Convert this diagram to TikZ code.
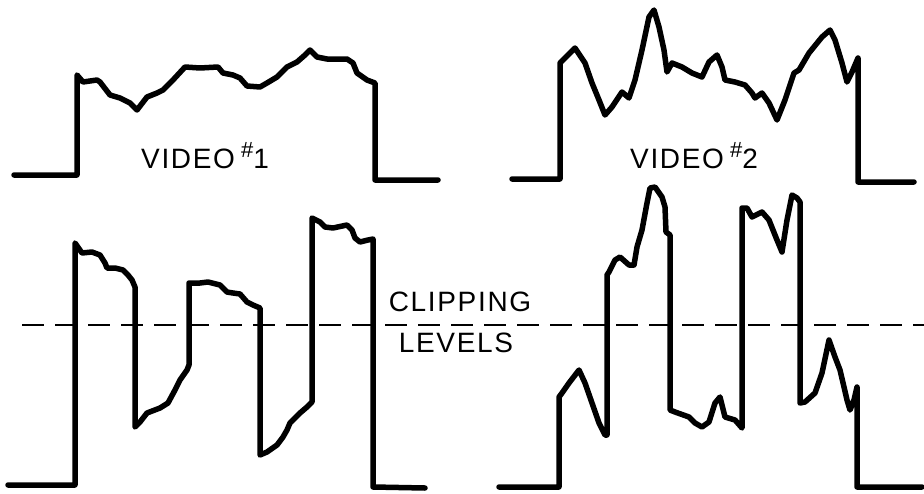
\documentclass[tikz,border=0pt]{standalone}
\usepackage{fontspec}
\setmainfont{Liberation Sans}
\newfontfamily\lettering[LetterSpace=6]{Liberation Sans}
\usepackage{tikz}

\begin{document}
\begin{tikzpicture}[x=1pt, y=-1pt,
    wave/.style={draw=black, line width=5.5pt, line join=round, line cap=round},
    cliplevel/.style={draw=black, line width=2pt, dash pattern=on 22pt off 11pt},
    caption/.style={font=\lettering\fontsize{28}{30}\selectfont, inner sep=0pt, anchor=center}]

    \useasboundingbox (0,0) rectangle (924,493);

    % video 1
    \draw [wave] (14,175) -- (77,175) -- (77,75) -- (83,82) -- (97,80) -- (100,82) -- (110,95)
        -- (120,98) -- (130,103) -- (137,110) -- (147,97) -- (157,93) -- (163,90) -- (173,80)
        -- (185,67) -- (200,68) -- (218,67) -- (223,73) -- (233,75) -- (240,78) -- (247,86)
        -- (260,87) -- (267,83) -- (277,77) -- (287,67) -- (297,62) -- (305,55) -- (310,50)
        -- (317,57) -- (327,59) -- (347,59) -- (353,63) -- (357,73) -- (367,80) -- (375,83)
        -- (375,180) -- (438,180);

    % video 2
    \draw [wave] (512,179) -- (560,179) -- (560,63) -- (575,48) -- (585,63) -- (592,83)
        -- (599,100) -- (605,115) -- (612,107) -- (622,92) -- (629,98) -- (635,80) -- (642,50)
        -- (649,17) -- (654,10) -- (659,27) -- (664,50) -- (667,72) -- (672,63) -- (682,67)
        -- (692,73) -- (702,77) -- (709,62) -- (717,55) -- (722,67) -- (725,80) -- (735,82)
        -- (745,85) -- (752,93) -- (755,98) -- (762,93) -- (769,103) -- (777,120) -- (785,100)
        -- (794,73) -- (799,70) -- (809,53) -- (822,37) -- (830,30) -- (835,40) -- (842,63)
        -- (847,82) -- (852,72) -- (855,65) -- (858,58) -- (858,182) -- (914,182);

    % clipped video 1
    \draw [wave] (8,485) -- (75,485) -- (75,243) -- (82,253) -- (92,252) -- (100,255)
        -- (105,263) -- (107,268) -- (115,268) -- (123,270) -- (128,275) -- (132,280) -- (135,287)
        -- (135,427) -- (140,422) -- (147,413) -- (160,408) -- (168,403) -- (175,390) -- (180,380)
        -- (187,370) -- (189,365) -- (189,283) -- (200,283) -- (208,282) -- (220,285) -- (227,292)
        -- (233,293) -- (240,294) -- (247,302) -- (253,305) -- (260,308) -- (260,455) -- (267,452)
        -- (277,445) -- (283,437) -- (287,430) -- (290,423) -- (300,413) -- (307,407) -- (312,402)
        -- (312,218) -- (320,222) -- (325,227) -- (333,228) -- (347,225) -- (352,230) -- (355,238)
        -- (360,242) -- (368,240) -- (373,239) -- (373,487) -- (425,488);

    % clipped video 2
    \draw [wave] (499,487) -- (559,487) -- (559,397) -- (562,393) -- (569,383) -- (579,370)
        -- (585,383) -- (592,403) -- (599,423) -- (605,435) -- (607,435) -- (607,275) -- (609,272)
        -- (615,260) -- (620,257) -- (629,265) -- (634,265) -- (637,247) -- (642,230) -- (647,203)
        -- (650,188) -- (655,187) -- (662,197) -- (665,207) -- (666,232) -- (670,235) -- (670,410)
        -- (675,412) -- (689,417) -- (695,423) -- (702,427) -- (709,422) -- (715,403) -- (720,397)
        -- (725,417) -- (735,420) -- (742,428) -- (742,208) -- (747,208) -- (752,217) -- (762,212)
        -- (769,220) -- (777,240) -- (782,252) -- (787,220) -- (792,195) -- (797,198) -- (800,202)
        -- (800,403) -- (805,402) -- (815,393) -- (822,373) -- (829,340) -- (835,357) -- (840,370)
        -- (844,387) -- (847,400) -- (850,410) -- (854,400) -- (857,387) -- (857,487) -- (922,487);

    \coordinate (clipstart) at (22,325);
    \coordinate (clipend) at (924,325);
    \draw [cliplevel] (clipstart) -- (clipend);

    \node [caption] (video1) at (205,156) {VIDEO\hspace{6pt}\raisebox{0.4em}{\fontsize{22}{22}\selectfont\#}1};
    \node [caption] (video2) at (694,156) {VIDEO\hspace{6pt}\raisebox{0.4em}{\fontsize{22}{22}\selectfont\#}2};
    \node [caption] (clipping) at (460,302) {CLIPPING};
    \node [caption] (levels) at (456,343) {LEVELS};
\end{tikzpicture}
\end{document}
